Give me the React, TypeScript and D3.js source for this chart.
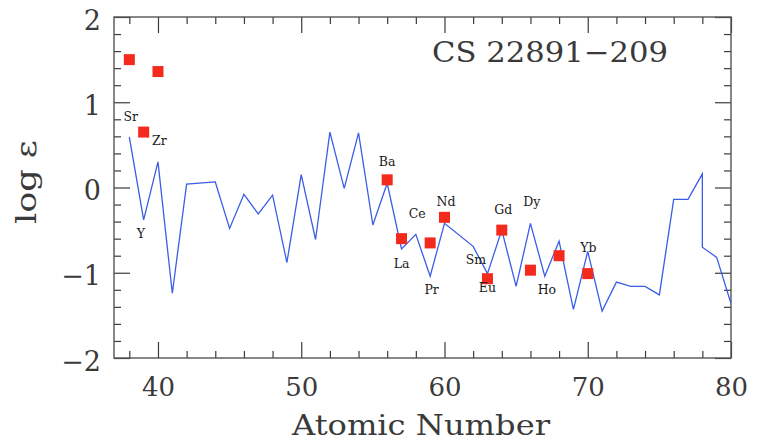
import React, { useEffect, useRef } from 'react';
import * as d3 from 'd3';

// model line (scaled solar r-process pattern)
const LINE_Z = [38, 39, 40, 41, 42, 44, 45, 46, 47, 48, 49, 50, 51, 52, 53, 54, 55, 56, 57, 58, 59, 60,
  62, 63, 64, 65, 66, 67, 68, 69, 70, 71, 72, 73, 74, 75, 76, 77, 78, 78, 79, 80];
const LINE_LOGEPS = [0.59, -0.38, 0.30, -1.24, 0.04, 0.065, -0.48, -0.08, -0.31, -0.09, -0.88, 0.15, -0.61, 0.65,
  -0.01, 0.64, -0.44, 0.05, -0.72, -0.55, -1.04, -0.42, -0.69, -1.01, -0.50, -1.16, -0.42, -1.04, -0.63, -1.43,
  -0.75, -1.45, -1.11, -1.16, -1.16, -1.26, -0.14, -0.14, 0.16, -0.70, -0.82, -1.36];

// measured abundances
const OBS_Z = [38, 39, 40, 56, 57, 59, 60, 63, 64, 66, 68, 70];
const OBS_LOGEPS = [1.50, 0.65, 1.36, 0.09, -0.60, -0.65, -0.35, -1.07, -0.50, -0.97, -0.80, -1.01];

// element labels
const LABEL_TEXT = ['Sr', 'Zr', 'Y', 'Ba', 'Ce', 'La', 'Pr', 'Nd', 'Sm', 'Eu', 'Gd', 'Dy', 'Ho', 'Yb'];
const LABEL_Z = [38.1, 40.1, 38.8, 56, 58.1, 57, 59.1, 60.1, 62.2, 63, 64.1, 66.1, 67.15, 70.05];
const LABEL_LOGEPS = [0.83, 0.55, -0.54, 0.30, -0.31, -0.89, -1.20, -0.16, -0.85, -1.17, -0.26, -0.17, -1.20, -0.70];

const X_TICKS = [40, 50, 60, 70, 80];
const Y_TICKS = [-2, -1, 0, 1, 2];

const STAR = 'CS 22891\u2212209';

const App: React.FC = () => {
  const svgRef = useRef<SVGSVGElement>(null);

  useEffect(() => {
    if (!svgRef.current) return;
    const width = 764;
    const height = 443;
    const margin = { top: 17, right: 33, bottom: 85, left: 114 };
    const svg = d3.select(svgRef.current);
    svg.selectAll('*').remove();

    const x = d3.scaleLinear().domain([36.93, 80]).range([margin.left, width - margin.right]);
    const y = d3.scaleLinear().domain([-2, 2]).range([height - margin.bottom, margin.top]);
    const [x0, x1] = x.range();
    const [y0, y1] = y.range();

    const font = '"DejaVu Serif", serif';
    const textColor = '#3a3a3a';
    const g = svg.append('g');

    const defs = svg.append('defs');
    defs.append('clipPath').attr('id', 'plot-clip')
      .append('rect').attr('x', x0).attr('y', y1).attr('width', x1 - x0).attr('height', y0 - y1);

    // minor + major ticks on all four sides, pointing inward
    const xMinor = d3.range(38, 81, 2).filter(v => v % 10 !== 0);
    const yMinor = d3.range(-2, 2.001, 0.2).map(v => +v.toFixed(1)).filter(v => Math.abs(v % 1) > 0.01);
    const major = 16, minor = 7;

    const axisStyle = (sel: d3.Selection<SVGGElement, unknown, null, undefined>) => {
      sel.select('.domain').remove();
      sel.selectAll('line').attr('stroke', '#3a3a3a').attr('stroke-width', 1.2);
    };

    // bottom
    g.append('g').attr('transform', `translate(0,${y0})`)
      .call(d3.axisBottom(x).tickValues(X_TICKS).tickSizeInner(-major).tickSizeOuter(0).tickPadding(22)
        .tickFormat(d => String(d)))
      .call(axisStyle)
      .selectAll('text').attr('font-family', font).attr('font-size', 26).attr('fill', textColor).attr('dy', '0.62em');
    g.append('g').attr('transform', `translate(0,${y0})`)
      .call(d3.axisBottom(x).tickValues(xMinor).tickSizeInner(-minor).tickSizeOuter(0).tickFormat(() => ''))
      .call(axisStyle);
    // top
    g.append('g').attr('transform', `translate(0,${y1})`)
      .call(d3.axisTop(x).tickValues(X_TICKS).tickSizeInner(-major).tickSizeOuter(0).tickFormat(() => ''))
      .call(axisStyle);
    g.append('g').attr('transform', `translate(0,${y1})`)
      .call(d3.axisTop(x).tickValues(xMinor).tickSizeInner(-minor).tickSizeOuter(0).tickFormat(() => ''))
      .call(axisStyle);
    // left
    g.append('g').attr('transform', `translate(${x0},0)`)
      .call(d3.axisLeft(y).tickValues(Y_TICKS).tickSizeInner(-major).tickSizeOuter(0).tickPadding(13)
        .tickFormat(d => (+d < 0 ? '\u2212' + Math.abs(+d) : String(d))))
      .call(axisStyle)
      .selectAll('text').attr('font-family', font).attr('font-size', 27).attr('fill', textColor).attr('dy', '0.45em');
    g.append('g').attr('transform', `translate(${x0},0)`)
      .call(d3.axisLeft(y).tickValues(yMinor).tickSizeInner(-minor).tickSizeOuter(0).tickFormat(() => ''))
      .call(axisStyle);
    // right
    g.append('g').attr('transform', `translate(${x1},0)`)
      .call(d3.axisRight(y).tickValues(Y_TICKS).tickSizeInner(-major).tickSizeOuter(0).tickFormat(() => ''))
      .call(axisStyle);
    g.append('g').attr('transform', `translate(${x1},0)`)
      .call(d3.axisRight(y).tickValues(yMinor).tickSizeInner(-minor).tickSizeOuter(0).tickFormat(() => ''))
      .call(axisStyle);

    // frame
    g.append('rect')
      .attr('x', x0).attr('y', y1).attr('width', x1 - x0).attr('height', y0 - y1)
      .attr('fill', 'none').attr('stroke', '#555').attr('stroke-width', 1.4);

    // model line
    const line = d3.line<number>()
      .x((_, i) => x(LINE_Z[i]))
      .y(d => y(d));
    g.append('path')
      .datum(LINE_LOGEPS)
      .attr('clip-path', 'url(#plot-clip)')
      .attr('fill', 'none')
      .attr('stroke', '#3b5ee6')
      .attr('stroke-width', 1.3)
      .attr('d', line);

    // observed points
    const sq = 11;
    g.selectAll('.obs')
      .data(OBS_LOGEPS)
      .enter()
      .append('rect')
      .attr('class', 'obs')
      .attr('x', (_, i) => x(OBS_Z[i]) - sq / 2)
      .attr('y', d => y(d) - sq / 2)
      .attr('width', sq)
      .attr('height', sq)
      .attr('fill', '#f42a1c');

    // element labels
    g.selectAll('.el')
      .data(LABEL_TEXT)
      .enter()
      .append('text')
      .attr('class', 'el')
      .attr('x', (_, i) => x(LABEL_Z[i]))
      .attr('y', (_, i) => y(LABEL_LOGEPS[i]))
      .attr('dy', '0.36em')
      .attr('text-anchor', 'middle')
      .attr('font-family', font)
      .attr('font-size', 12.5)
      .attr('fill', '#1a1a1a')
      .text(d => d);

    // star name
    g.append('text')
      .attr('x', x0 + 318)
      .attr('y', y1 + 45)
      .attr('font-family', font)
      .attr('font-size', 28)
      .attr('fill', textColor)
      .attr('textLength', 236)
      .attr('lengthAdjust', 'spacingAndGlyphs')
      .text(STAR);

    // axis titles
    g.append('text')
      .attr('x', (x0 + x1) / 2 - 1.5)
      .attr('y', 435)
      .attr('text-anchor', 'middle')
      .attr('font-family', font)
      .attr('font-size', 28)
      .attr('fill', textColor)
      .attr('textLength', 258)
      .attr('lengthAdjust', 'spacingAndGlyphs')
      .text('Atomic Number');

    g.append('text')
      .attr('transform', `translate(36,182) rotate(-90)`)
      .attr('text-anchor', 'middle')
      .attr('font-family', font)
      .attr('font-size', 28)
      .attr('fill', textColor)
      .attr('textLength', 84)
      .attr('lengthAdjust', 'spacingAndGlyphs')
      .text('log \u03b5');
  }, []);

  return (
    <div style={{ position: 'absolute', left: 0, top: 0, width: 764, height: 443, background: '#fff' }}>
      <svg ref={svgRef} width={764} height={443} style={{ display: 'block' }}></svg>
    </div>
  );
};

export default App;
